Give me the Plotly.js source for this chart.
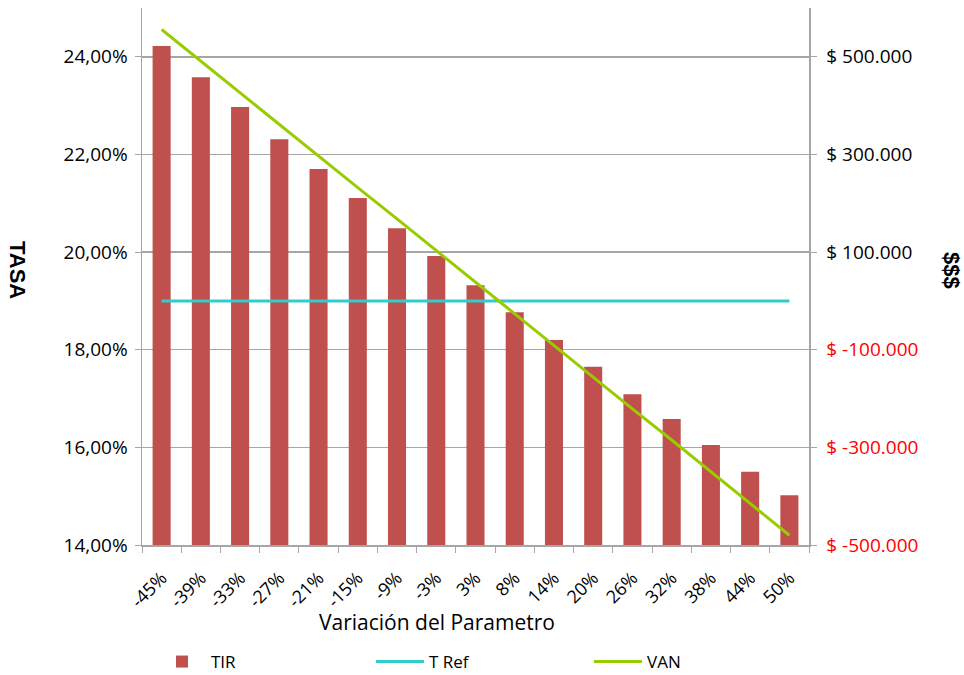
<!DOCTYPE html>
<html>
<head>
<meta charset="utf-8">
<script src="https://cdn.plot.ly/plotly-3.0.1.min.js"></script>
<style>html,body{margin:0;padding:0;background:#fff;}#chart{width:964px;height:675px;}</style>
</head>
<body>
<div id="chart"></div>
<script>
// ---- data ----
const categories = ['-45%','-39%','-33%','-27%','-21%','-15%','-9%','-3%','3%','8%','14%','20%','26%','32%','38%','44%','50%'];
const tir = [24.22, 23.58, 22.97, 22.31, 21.70, 21.11, 20.49, 19.92, 19.32, 18.77, 18.20, 17.65, 17.09, 16.58, 16.05, 15.50, 15.02];
const tRef = [19, 19, 19, 19, 19, 19, 19, 19, 19, 19, 19, 19, 19, 19, 19, 19, 19];
const van = [556000, 491000, 427000, 362000, 297000, 232000, 168000, 103000, 38000, -27000, -91000, -156000, -221000, -285000, -350000, -415000, -480000];
const leftTickVals = [14, 16, 18, 20, 22, 24];
const leftTickText = ['14,00%', '16,00%', '18,00%', '20,00%', '22,00%', '24,00%'];
const rightTickVals = [-500000, -300000, -100000, 100000, 300000, 500000];
const rightTickText = ['$ -500.000', '$ -300.000', '$ -100.000', '$ 100.000', '$ 300.000', '$ 500.000'];

const FONT = '"Open Sans", "Noto Sans", sans-serif';
const GRID = '#a6a6a6';

const rightTickLabels = rightTickText.map((t, i) =>
  rightTickVals[i] < 0 ? '<span style="fill:#ff0000;color:#ff0000">' + t + '</span>' : t);

const traces = [
  {type: 'bar', name: 'TIR', x: categories, y: tir, marker: {color: '#C0504D'}, yaxis: 'y'},
  {type: 'scatter', mode: 'lines', name: 'T Ref', x: categories, y: tRef, line: {color: '#33CCCC', width: 3}, yaxis: 'y'},
  {type: 'scatter', mode: 'lines', name: 'VAN', x: categories, y: van, line: {color: '#99CC00', width: 3}, yaxis: 'y2'}
];

const layout = {
  width: 964, height: 675,
  margin: {l: 142, r: 155, t: 8, b: 130},
  paper_bgcolor: '#fff', plot_bgcolor: '#fff',
  font: {family: FONT, size: 18, color: '#000'},
  bargap: 0.54,
  showlegend: true,
  legend: {orientation: 'h', xref: 'container', yref: 'container',
           x: 153 / 964, xanchor: 'left', y: (675 - 662) / 675, yanchor: 'middle',
           font: {family: FONT, size: 17, color: '#000'}, entrywidth: 155, entrywidthmode: 'pixels',
           itemwidth: 48, bgcolor: 'rgba(0,0,0,0)'},
  xaxis: {type: 'category', automargin: false, tickangle: -45, tickson: 'boundaries',
          ticks: 'outside', ticklen: 6, tickcolor: GRID, showline: true, linecolor: GRID, linewidth: 1.5,
          showgrid: false, ticklabelstandoff: 14, tickfont: {family: FONT, size: 18, color: '#000'}},
  yaxis: {range: [14, 25], tickvals: leftTickVals, ticktext: leftTickText, automargin: false,
          ticks: 'outside', ticklen: 6, tickcolor: GRID, showline: true, linecolor: GRID, linewidth: 1.5,
          showgrid: true, gridcolor: GRID, gridwidth: 1.5, zeroline: false, ticklabelstandoff: 3,
          tickfont: {family: FONT, size: 19, color: '#000'}},
  yaxis2: {range: [-500000, 600000], overlaying: 'y', side: 'right', tickvals: rightTickVals, ticktext: rightTickLabels,
           automargin: false, ticks: 'outside', ticklen: 6, tickcolor: GRID, showline: true, linecolor: GRID, linewidth: 1.5,
           showgrid: false, zeroline: false, ticklabelstandoff: 6, tickfont: {family: FONT, size: 19, color: '#000'}},
  annotations: [
    {text: 'Variación del Parametro', xref: 'paper', yref: 'paper', x: 0.442, y: -0.143, xanchor: 'center', yanchor: 'middle',
     showarrow: false, font: {family: FONT, size: 21, color: '#000'}},
    {text: '<b>TASA</b>', xref: 'paper', yref: 'paper', x: (18 - 142) / 667, y: (545 - 270) / 537, xanchor: 'center', yanchor: 'middle',
     textangle: 90, showarrow: false, font: {family: '"Liberation Sans", Arial, sans-serif', size: 22, color: '#000'}},
    {text: '<b>$$$</b>', xref: 'paper', yref: 'paper', x: (952 - 142) / 667, y: (545 - 270) / 537, xanchor: 'center', yanchor: 'middle',
     textangle: 90, showarrow: false, font: {family: '"Liberation Sans", Arial, sans-serif', size: 22, color: '#000'}}
  ]
};

Plotly.newPlot('chart', traces, layout, {displayModeBar: false, staticPlot: true});
</script>
</body>
</html>
